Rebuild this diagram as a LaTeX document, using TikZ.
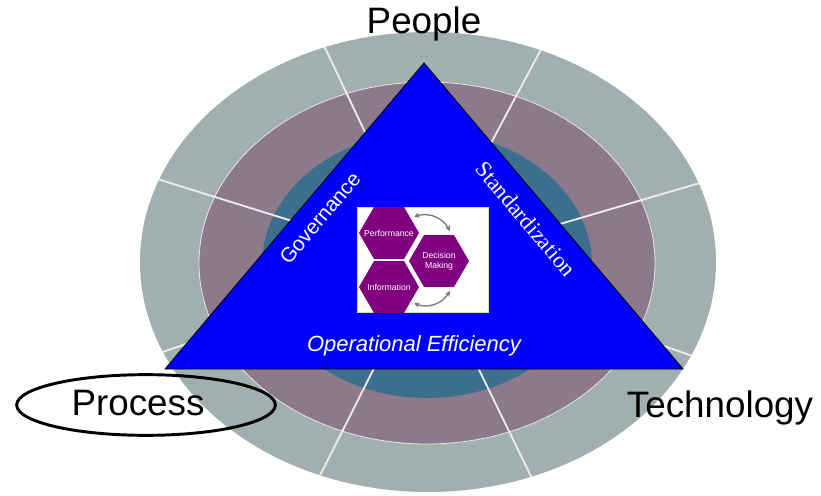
\documentclass[tikz,border=0pt]{standalone}
\usepackage{fontspec}
\setmainfont{Liberation Sans}
\newfontfamily\seriffont{Liberation Serif}
\usepackage{tikz}
\usetikzlibrary{positioning}
\usetikzlibrary{shapes.geometric}
\usetikzlibrary{arrows.meta}

\definecolor{ringgray}{RGB}{161,176,174}
\definecolor{ringmauve}{RGB}{140,122,140}
\definecolor{ringteal}{RGB}{60,110,142}
\definecolor{hexpurple}{RGB}{128,0,128}
\definecolor{loopgray}{RGB}{120,120,135}

\begin{document}
\begin{tikzpicture}[
    x=0.75pt, y=-0.75pt,
    spoke/.style={draw=white!92!black, line width=1.4pt},
    bigword/.style={font=\fontsize{27.6}{30}\selectfont, inner sep=0pt, anchor=base},
    edgeword/.style={text=white, inner sep=0pt},
    hex/.style={regular polygon, regular polygon sides=6, fill=hexpurple,
                minimum size=45pt, inner sep=0pt, outer sep=3pt},
    hextext/.style={text=white, align=center, inner sep=0pt, font=\fontsize{6.5}{7.5}\selectfont},
    swaparrow/.style={{Stealth[length=4pt,width=4pt]}-{Stealth[length=4pt,width=4pt]}, loopgray, line width=1pt}
]
\useasboundingbox (0,0) rectangle (821,496);

% Rings
\fill[ringgray] (428,262) ellipse [x radius=288, y radius=230];
\filldraw[fill=ringmauve, draw=white!80!ringmauve, line width=0.6pt] (427,263) ellipse [x radius=228, y radius=181];
\fill[ringteal] (427,265) ellipse [x radius=165, y radius=133];

% Segment dividers
\foreach \a in {20,67,111,159,203,248,291,336}
    \draw[spoke] (427,263) -- ({428+288*cos(\a)},{262-230*sin(\a)});

% Triangle
\coordinate (apex) at (424,63);
\coordinate (bl) at (165,369);
\coordinate (br) at (683,369);
\filldraw[fill=blue, draw=black, line width=0.6pt] (apex) -- (bl) -- (br) -- cycle;

% Corner labels
\node[bigword] (people) at (424,33) {People};
\node[bigword] (tech) at (720,417) {Technology};
\node[bigword] (process) at (138,415) {Process};
\node[draw, ellipse, line width=2.2pt, minimum width=194pt, minimum height=45.5pt, inner sep=0pt] (processring) at (146,405) {};

% Side labels
\node[edgeword, rotate=49.8, font=\fontsize{15.5}{17}\selectfont] (gov) at (320,218) {Governance};
\node[edgeword, rotate=-49.8, font=\seriffont\fontsize{17}{19}\selectfont] (std) at (526,219) {Standardization};
\node[edgeword, font=\itshape\fontsize{16.5}{18}\selectfont] (opeff) at (414,346) {Operational Efficiency};

% Center panel
\node[draw=gray!30, fill=white, minimum width=98.25pt, minimum height=78.75pt, inner sep=0pt] (panel) at (422.5,259.5) {};
\node[hex] (perf) at (389,233) {};
\node[hex] (dec) at (439,261) {};
\node[hex] (info) at (389,287) {};
\node[hextext] at (perf) {Performance};
\node[hextext] at (dec) {Decision\\Making};
\node[hextext] at (info) {Information};

\draw[swaparrow] (perf.33) to[bend left=40] (dec.70);
\draw[swaparrow] (dec.-70) to[bend left=40] (info.-33);

\end{tikzpicture}
\end{document}
